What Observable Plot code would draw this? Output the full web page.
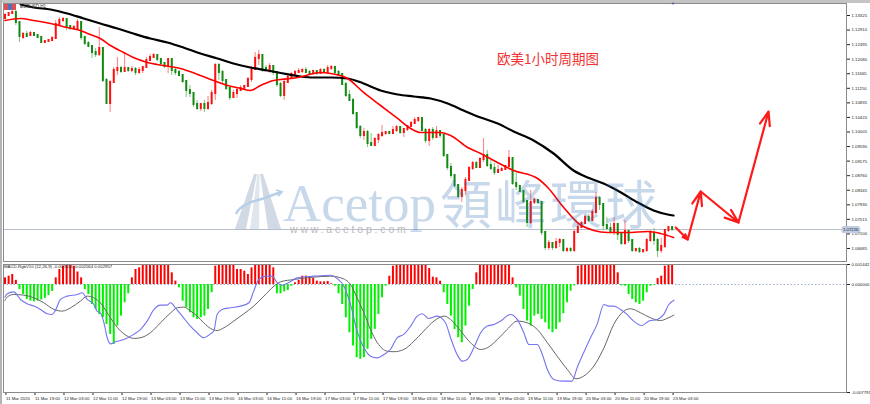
<!DOCTYPE html>
<html><head><meta charset="utf-8">
<script src="https://cdn.jsdelivr.net/npm/d3@7"></script>
<script src="https://cdn.jsdelivr.net/npm/@observablehq/plot@0.6"></script>
<style>
body{margin:0;background:#fff;}
#wrap{position:relative;width:870px;height:404px;overflow:hidden;background:#fff;font-family:"Liberation Sans",Arial,sans-serif;}
#wrap svg{position:absolute;left:0;}
.ov{position:absolute;white-space:nowrap;line-height:1;pointer-events:none;}
</style></head><body><div id="wrap"></div>
<script>
// ---- candles (EURUSD H1) ----
const open=[1.13240,1.13325,1.13382,1.13411,1.13126,1.12698,1.12784,1.12755,1.12812,1.12755,1.12698,1.12556,1.12584,1.12613,1.12670,1.13069,1.13183,1.13211,1.13012,1.12955,1.12955,1.13126,1.12698,1.12527,1.12442,1.12271,1.12214,1.12385,1.11473,1.10817,1.11416,1.11758,1.11815,1.11729,1.11815,1.11758,1.11786,1.11701,1.11758,1.11843,1.12043,1.12128,1.12185,1.12071,1.11957,1.11872,1.12071,1.11758,1.11701,1.11615,1.11444,1.11188,1.11102,1.10789,1.10675,1.10789,1.10675,1.10817,1.11102,1.11900,1.11701,1.11473,1.11245,1.10988,1.11102,1.11188,1.11245,1.11302,1.11501,1.11786,1.12100,1.12185,1.11815,1.11786,1.11872,1.11701,1.11359,1.11045,1.11416,1.11558,1.11644,1.11701,1.11729,1.11758,1.11701,1.11672,1.11729,1.11672,1.11758,1.11701,1.11815,1.11843,1.11701,1.11644,1.11359,1.11045,1.10903,1.10532,1.10133,1.09905,1.09991,1.09677,1.09620,1.09791,1.09905,1.09962,1.09991,1.09962,1.10048,1.10133,1.09991,1.10076,1.10162,1.10247,1.10333,1.10390,1.10048,1.09763,1.10048,1.09848,1.10019,1.09905,1.09335,1.08993,1.08765,1.08480,1.08167,1.08338,1.08623,1.08965,1.09107,1.08993,1.09221,1.09335,1.09050,1.08965,1.08851,1.08908,1.08936,1.09022,1.09250,1.08537,1.08452,1.08309,1.08024,1.07426,1.07996,1.08053,1.07996,1.07141,1.06713,1.06827,1.06713,1.06856,1.06913,1.06628,1.06656,1.06628,1.07141,1.07283,1.07397,1.07568,1.07483,1.07711,1.08110,1.07939,1.07340,1.07255,1.07169,1.07369,1.07084,1.06827,1.07169,1.06913,1.06628,1.06656,1.06599,1.06628,1.06913,1.07112,1.06913,1.06628,1.06742,1.07198,1.07283];
const high=[1.13382,1.13411,1.13468,1.13468,1.13126,1.12841,1.12869,1.12869,1.12841,1.12784,1.12698,1.12613,1.12641,1.12727,1.13183,1.13268,1.13268,1.13240,1.13040,1.13040,1.13211,1.13154,1.12727,1.12584,1.12470,1.12385,1.12983,1.12413,1.11530,1.11473,1.11843,1.12128,1.11872,1.12242,1.11843,1.11872,1.11843,1.11843,1.11872,1.12128,1.12214,1.12242,1.12214,1.12100,1.11986,1.12100,1.12100,1.11815,1.11758,1.11644,1.11473,1.11330,1.11131,1.10903,1.10817,1.10903,1.11017,1.11188,1.11957,1.11957,1.11758,1.11501,1.11273,1.11188,1.11245,1.11330,1.11330,1.11558,1.11872,1.12271,1.12328,1.12214,1.11900,1.11957,1.11900,1.11729,1.11416,1.11473,1.11615,1.11701,1.11758,1.11815,1.11815,1.11843,1.11758,1.11758,1.11758,1.11815,1.11815,1.11900,1.11900,1.11872,1.11758,1.11672,1.11416,1.11188,1.10960,1.10561,1.10190,1.10105,1.10048,1.09962,1.09848,1.09962,1.10190,1.10019,1.10019,1.10162,1.10190,1.10162,1.10105,1.10190,1.10304,1.10418,1.10418,1.10418,1.10105,1.10105,1.10133,1.10162,1.10048,1.09934,1.09364,1.09107,1.08794,1.08509,1.08423,1.08708,1.09022,1.09164,1.09164,1.09278,1.09820,1.09478,1.09193,1.09107,1.09050,1.08993,1.09050,1.09478,1.09278,1.08822,1.08480,1.08338,1.08053,1.08338,1.08110,1.08081,1.08024,1.07169,1.06913,1.06856,1.06970,1.06970,1.06941,1.06713,1.06713,1.07226,1.07369,1.07454,1.07625,1.07654,1.07796,1.08281,1.08167,1.07967,1.07568,1.07397,1.07568,1.07397,1.07112,1.07483,1.07198,1.06941,1.06685,1.06713,1.06656,1.06970,1.07198,1.07255,1.06970,1.06970,1.07226,1.07312,1.07312];
const low=[1.13211,1.13297,1.13354,1.13040,1.12556,1.12641,1.12698,1.12727,1.12727,1.12670,1.12527,1.12527,1.12556,1.12584,1.12641,1.13040,1.13126,1.12898,1.12898,1.12898,1.12898,1.12613,1.12470,1.12413,1.12100,1.12128,1.12157,1.11416,1.10789,1.10561,1.11387,1.11615,1.11672,1.11701,1.11701,1.11701,1.11615,1.11644,1.11672,1.11815,1.12014,1.12100,1.12014,1.11872,1.11815,1.11672,1.11615,1.11615,1.11587,1.11387,1.10988,1.10988,1.10703,1.10618,1.10589,1.10561,1.10618,1.10760,1.10903,1.11473,1.11387,1.11188,1.10903,1.10960,1.10960,1.11159,1.11188,1.11273,1.11416,1.11758,1.11900,1.11701,1.11758,1.11672,1.11615,1.11273,1.10988,1.10903,1.11387,1.11530,1.11615,1.11672,1.11672,1.11672,1.11615,1.11615,1.11615,1.11644,1.11672,1.11672,1.11758,1.11644,1.11615,1.11330,1.10988,1.10874,1.10475,1.10076,1.09820,1.09763,1.09563,1.09592,1.09592,1.09677,1.09848,1.09905,1.09934,1.09934,1.09991,1.09934,1.09848,1.10019,1.10133,1.10219,1.10276,1.10019,1.09677,1.09592,1.09763,1.09820,1.09820,1.09278,1.08908,1.08680,1.08423,1.08110,1.07996,1.08195,1.08594,1.08908,1.08965,1.08965,1.09136,1.08993,1.08908,1.08765,1.08822,1.08879,1.08908,1.08993,1.08480,1.08338,1.08281,1.07967,1.07283,1.07369,1.07939,1.07939,1.07055,1.06628,1.06628,1.06628,1.06656,1.06713,1.06571,1.06571,1.06571,1.06571,1.07112,1.07255,1.07369,1.07426,1.07454,1.07654,1.07768,1.07198,1.07198,1.07112,1.07055,1.06913,1.06770,1.06770,1.06827,1.06571,1.06571,1.06542,1.06542,1.06571,1.06856,1.06770,1.06428,1.06542,1.06685,1.07141,1.07169];
const close=[1.13325,1.13382,1.13411,1.13126,1.12727,1.12784,1.12727,1.12812,1.12755,1.12698,1.12556,1.12584,1.12613,1.12670,1.13069,1.13183,1.13211,1.13012,1.12955,1.12983,1.13126,1.12698,1.12527,1.12442,1.12271,1.12214,1.12385,1.11473,1.10817,1.11416,1.11758,1.11815,1.11729,1.11815,1.11758,1.11786,1.11701,1.11758,1.11843,1.12043,1.12128,1.12185,1.12071,1.11957,1.11872,1.12071,1.11758,1.11701,1.11615,1.11444,1.11188,1.11102,1.10789,1.10675,1.10789,1.10675,1.10817,1.11102,1.11900,1.11701,1.11473,1.11245,1.10988,1.11102,1.11188,1.11245,1.11302,1.11501,1.11786,1.12100,1.12185,1.11815,1.11786,1.11872,1.11701,1.11359,1.11045,1.11416,1.11558,1.11644,1.11701,1.11729,1.11758,1.11701,1.11672,1.11729,1.11672,1.11758,1.11701,1.11815,1.11843,1.11701,1.11644,1.11359,1.11045,1.10903,1.10532,1.10133,1.09905,1.09991,1.09677,1.09620,1.09791,1.09905,1.09962,1.09991,1.09962,1.10048,1.10133,1.09991,1.10076,1.10162,1.10247,1.10333,1.10390,1.10048,1.09763,1.10048,1.09848,1.10019,1.09905,1.09335,1.08993,1.08765,1.08480,1.08167,1.08338,1.08623,1.08965,1.09107,1.08993,1.09221,1.09335,1.09050,1.08965,1.08851,1.08908,1.08936,1.09022,1.09250,1.08537,1.08452,1.08309,1.08024,1.07426,1.07996,1.08053,1.07996,1.07141,1.06713,1.06827,1.06713,1.06856,1.06913,1.06628,1.06656,1.06628,1.07141,1.07283,1.07397,1.07568,1.07483,1.07711,1.08110,1.07939,1.07340,1.07255,1.07169,1.07369,1.07084,1.06827,1.07169,1.06913,1.06628,1.06656,1.06599,1.06628,1.06913,1.07112,1.06913,1.06628,1.06742,1.07198,1.07283,1.07226];
const currentPrice=1.07226;

// ---- moving averages (bar index, price) ----
const fastMABar=[0,4.3,7.9,12.6,17.2,20.8,22.8,26.3,29.1,32.7,35.4,39.3,43.7,48.4,53.9,57.5,61.4,65,67.7,70.5,74.1,78.8,80.7,87,89.8,94.5,98.9,103.6,108.3,111.9,114.6,120.1,122.9,127.6,131.2,134.8,140.3,146.9,149.7,154.1,158.2,162.4,166.2,171.7,177.3,180.8,184.4];
const fastMAPrice=[1.13183,1.13240,1.13183,1.13097,1.12983,1.12898,1.12812,1.12670,1.12470,1.12271,1.12128,1.11986,1.11900,1.11815,1.11615,1.11473,1.11330,1.11245,1.11188,1.11330,1.11473,1.11530,1.11558,1.11701,1.11672,1.11530,1.11131,1.10760,1.10390,1.10105,1.09991,1.09991,1.09905,1.09563,1.09392,1.09193,1.08908,1.08680,1.08423,1.07853,1.07397,1.07198,1.07140,1.07140,1.07169,1.07112,1.06998];
const slowMABar=[4.3,7.9,12.6,17.2,21.7,26.3,31.0,35.4,40.1,44.8,49.2,53.9,58.6,63.0,67.7,72.4,76.8,81.5,85.1,89.8,94.5,98.9,103.6,108.3,112.7,117.4,122.1,126.5,131.2,135.9,140.3,145.8,151.3,156.8,160.7,165.1,169.9,174.5,178.9,182.8,184.4];
const slowMAPrice=[1.13639,1.13553,1.13496,1.13382,1.13240,1.13097,1.12955,1.12812,1.12670,1.12556,1.12413,1.12242,1.12100,1.11957,1.11843,1.11758,1.11672,1.11587,1.11558,1.11558,1.11530,1.11387,1.11188,1.11074,1.11017,1.10960,1.10817,1.10618,1.10418,1.10247,1.10019,1.09763,1.09392,1.08908,1.08708,1.08537,1.08281,1.07996,1.07768,1.07654,1.07625];

// ---- projection arrows (bar index, price) ----
const arrowFromBar=[185,188.3,191.9,202.3];
const arrowFromPrice=[1.07283,1.06941,1.08309,1.07426];
const arrowToBar=[188.3,191.9,202.3,210.6];
const arrowToPrice=[1.06941,1.08309,1.07426,1.10589];

// ---- MACD ----
const macdHist=[0.00048,0.0006,0.00072,0.0003,
-0.00036,-0.00072,-0.00108,-0.0012,-0.00125,-0.0012,-0.00112,-0.001,-0.0008,-0.0005,
0.00048,
0.00108,0.00132,0.00144,0.00144,0.00132,0.0009,0.00048,
-0.00036,-0.00072,-0.00144,-0.0018,-0.00216,-0.0024,-0.00288,-0.0036,-0.00432,-0.003,-0.00228,-0.00132,-0.00067,
0.00048,0.00108,0.0012,0.00144,0.00144,0.00144,0.00144,0.00144,0.00144,0.00144,0.00144,0.00084,0.00024,
-0.00024,-0.0012,-0.00168,-0.00204,-0.0024,-0.00252,-0.0024,-0.00228,-0.0018,-0.0006,
0.00132,0.00144,0.00144,0.00144,0.00144,0.00144,0.00108,0.00108,0.00096,0.00072,0.0012,0.00144,0.00144,0.00144,0.00144,0.00144,0.0012,
-0.00067,-0.00067,-0.00053,-0.00043,-0.00012,
0.00012,0.00029,0.0006,0.0006,0.00048,0.00043,0.00024,0.00019,0.00019,0.00022,0.00005,
-0.00012,-0.00067,-0.00144,-0.0024,-0.00348,-0.00444,-0.00528,-0.0054,-0.00528,-0.00468,-0.00396,-0.00324,-0.00216,-0.00096,-0.00012,
0.0006,0.00132,0.00144,0.00144,0.00144,0.00144,0.00144,0.00144,0.00144,0.00144,0.00144,0.00115,0.00053,0.00048,0.00024,
-0.0006,-0.00144,-0.00228,-0.00324,-0.00384,-0.0042,-0.003,-0.00156,-0.00036,
0.00084,0.00144,0.00144,0.00144,0.00144,0.00144,0.00144,0.00144,0.00144,0.00144,0.00048,
-0.00024,-0.00084,-0.0018,-0.00264,-0.003,-0.00228,-0.00216,-0.00252,-0.00276,-0.00324,-0.00348,-0.00324,-0.00276,-0.0021,-0.00132,-0.00048,
-0.0001,
0.00132,0.00144,0.00144,0.00144,0.00144,0.00144,0.00144,0.00144,0.00144,0.00144,0.00144,0.00084,
-0.0001,-0.00012,-0.00072,-0.00108,-0.00132,-0.00144,-0.0012,-0.0006,-0.00012,-0.00005,
0.00043,0.0006,0.00132,0.00144,0.00144];
const macdBar=[0,0.6,2.4,4.3,6.1,8,9.8,11.6,13,13.9,15.3,17.1,19.9,21.3,22.7,24.5,25.4,26.3,27.3,28.2,29.1,30.5,32.8,35.5,37.4,39.2,41.1,42.9,44.7,45.7,47,48.9,50.7,53,54.8,56.7,57.6,58.5,59.9,62.2,65,67.3,68.6,70,71.9,73.7,75.1,76.5,78,80.6,85.2,89.8,91.6,93.5,95.3,97.1,99,100.8,102.7,104.5,106.3,108.2,110,111.9,113.7,115.1,116.9,119.2,121.5,122.9,124.7,126.1,127.5,129.3,131.2,133,134.9,136.7,139.4,141.3,143.1,144.5,146.8,148.2,149.6,151.4,153.7,156.4,157.8,159.6,161.5,163.3,165.2,166.5,167.9,169.8,171.6,173.4,175.7,177.6,179.9,181.7,183.1,184.5];
const macdVal=[-0.00091,-0.00067,-0.00053,-0.00108,-0.00139,-0.00156,-0.0018,-0.00211,-0.00216,-0.00187,-0.00108,-0.00084,-0.00072,-0.0006,-0.00108,-0.00144,-0.00192,-0.00204,-0.00276,-0.00384,-0.00428,-0.00413,-0.00397,-0.0036,-0.00324,-0.00264,-0.0018,-0.00149,-0.00149,-0.00132,-0.00168,-0.00228,-0.00288,-0.00348,-0.00384,-0.00356,-0.00336,-0.00216,-0.0018,-0.00168,-0.00156,-0.00132,-0.00048,0.00036,0.0006,0.0006,0.00012,-0.00005,0.0001,0.00048,0.0006,0.00067,0.00043,-0.00012,-0.00144,-0.00336,-0.00457,-0.00517,-0.00529,-0.00505,-0.00469,-0.00384,-0.0036,-0.003,-0.00228,-0.00211,-0.00245,-0.00228,-0.00276,-0.00384,-0.00505,-0.00553,-0.00541,-0.00457,-0.00348,-0.003,-0.00288,-0.00264,-0.00216,-0.00252,-0.00348,-0.00433,-0.00433,-0.00505,-0.00613,-0.00685,-0.00697,-0.00697,-0.006,-0.00493,-0.00384,-0.00288,-0.00144,-0.00156,-0.00156,-0.0018,-0.00216,-0.00264,-0.00296,-0.00264,-0.00252,-0.00216,-0.00144,-0.00113];
const signalBar=[0,0.6,2.4,5.2,8,10.7,13.5,15.8,18.1,20.8,22.7,24.5,26.3,28.2,30,31.9,33.7,35.5,37.4,40.1,42.9,45.7,47.5,49.3,51.2,53,54.8,56.7,58.5,60.4,63.1,65.9,68.6,71.4,74.2,76,79.7,85.2,89.8,92.6,95.3,97.1,99,100.8,102.7,105.4,107.3,110,112.8,115.5,118.3,121.1,122.9,125.7,128.4,131.2,133,135.8,138.5,141.3,144,146.8,149.6,152.3,155.1,157.5,159.6,162.4,165.2,167.9,170.7,172.5,175.3,178,180.8,182.6,184.5];
const signalVal=[-0.00115,-0.00091,-0.00072,-0.00077,-0.00096,-0.00132,-0.0018,-0.00192,-0.00168,-0.0012,-0.00084,-0.00096,-0.00132,-0.00204,-0.00276,-0.00336,-0.00372,-0.00389,-0.00384,-0.00348,-0.00276,-0.00204,-0.00168,-0.00163,-0.00192,-0.00228,-0.00276,-0.00317,-0.00332,-0.00312,-0.00264,-0.00211,-0.00156,-0.00084,-0.00012,0.00019,0.00036,0.00053,0.0006,0.00048,0,-0.00096,-0.00204,-0.00324,-0.0042,-0.00481,-0.00485,-0.00469,-0.00409,-0.00336,-0.00264,-0.00228,-0.00252,-0.00336,-0.0042,-0.00469,-0.00457,-0.00397,-0.00324,-0.00264,-0.00276,-0.00324,-0.0042,-0.00517,-0.00613,-0.0068,-0.00661,-0.00589,-0.00457,-0.00288,-0.00192,-0.00175,-0.00204,-0.0024,-0.0026,-0.00245,-0.00221];

// ---- axes ----
const priceTicks=[1.13325,1.12910,1.12495,1.12080,1.11665,1.11250,1.10835,1.10420,1.10005,1.09590,1.09175,1.08760,1.08345,1.07930,1.07515,1.07100,1.06685];
const macdTicks=[0.001442,0,-0.007791];
const timeLabels=["11 Mar 2020","11 Mar 19:00","12 Mar 03:00","12 Mar 11:00","12 Mar 19:00","13 Mar 03:00","13 Mar 11:00","13 Mar 19:00","16 Mar 03:00","16 Mar 11:00","16 Mar 19:00","17 Mar 03:00","17 Mar 11:00","17 Mar 19:00","18 Mar 03:00","18 Mar 11:00","18 Mar 19:00","19 Mar 03:00","19 Mar 11:00","19 Mar 19:00","20 Mar 03:00","20 Mar 11:00","20 Mar 19:00","23 Mar 03:00"];
const timeLabelBars=[0,8,16,24,32,40,48,56,64,72,80,88,96,104,112,120,128,136,144,152,160,168,176,184];

// ---- build tables ----
const bars=open.map((o,i)=>({i,o,h:high[i],l:low[i],c:close[i]}));
const fastMA=fastMABar.map((b,k)=>({b,v:fastMAPrice[k]}));
const slowMA=slowMABar.map((b,k)=>({b,v:slowMAPrice[k]}));
const arrows=arrowFromBar.map((b,k)=>({x1:b,y1:arrowFromPrice[k],x2:arrowToBar[k],y2:arrowToPrice[k]}));
const hist=macdHist.map((v,i)=>({i,v}));
const macdLine=macdBar.map((b,k)=>({b,v:macdVal[k]}));
const signalLine=signalBar.map((b,k)=>({b,v:signalVal[k]}));
const labelOf=new Map(timeLabelBars.map((b,k)=>[b,timeLabels[k]]));

const xDomain=[-0.41,232.1];
const font='"Liberation Sans",Arial,sans-serif';
const baseStyle={fontSize:"4.3px",fontFamily:font,background:"transparent",overflow:"visible",color:"#222"};

const main=Plot.plot({
  width:870,height:262,marginLeft:3,marginRight:24,marginTop:3,marginBottom:1,
  x:{domain:xDomain,axis:null},
  y:{domain:[1.06314,1.13667],axis:null},
  color:{type:"identity"},
  style:baseStyle,
  marks:[
    Plot.ruleY([currentPrice],{stroke:"#b7bfcf",strokeWidth:1}),
    Plot.ruleX(bars,{x:"i",y1:"l",y2:"h",stroke:d=>d.c>=d.o?"#ff7d7d":"#7fc47f",strokeWidth:1}),
    Plot.ruleX(bars,{x:"i",y1:"o",y2:"c",stroke:d=>d.c>=d.o?"#ff1010":"#128a12",strokeWidth:2,strokeLinecap:"square"}),
    Plot.line(slowMA,{x:"b",y:"v",stroke:"#000",strokeWidth:2.2,curve:"monotone-x",clip:true}),
    Plot.line(fastMA,{x:"b",y:"v",stroke:"#ff0000",strokeWidth:1.6,curve:"monotone-x",clip:true}),
    Plot.arrow(arrows,{x1:"x1",y1:"y1",x2:"x2",y2:"y2",stroke:"#ff1a1a",strokeWidth:2.2,headLength:10,headAngle:40}),
    Plot.axisY(priceTicks,{anchor:"right",tickSize:3,tickPadding:2,tickFormat:d=>d.toFixed(5),fontSize:4.3,label:null}),
    Plot.frame({stroke:"#8a8a8a"}),
    Plot.text([currentPrice],{y:d=>d,frameAnchor:"right",dx:12,text:d=>d.toFixed(5),fontSize:4.3,fill:"#222",stroke:"#bfcbe3",strokeWidth:4})
  ]
});
main.style.top="0px";

const macd=Plot.plot({
  width:870,height:142,marginLeft:3,marginRight:24,marginTop:2,marginBottom:12,
  x:{domain:xDomain,axis:null},
  y:{domain:[-0.007791,0.001442],axis:null},
  color:{type:"identity"},
  style:baseStyle,
  marks:[
    Plot.ruleY([0],{stroke:"#9aaccc",strokeDasharray:"1.5,2"}),
    Plot.ruleX(hist,{x:"i",y1:0,y2:"v",stroke:d=>d.v>=0?"#ff0000":"#00f000",strokeWidth:2,clip:true}),
    Plot.line(signalLine,{x:"b",y:"v",stroke:"#666",strokeWidth:1,curve:"monotone-x"}),
    Plot.line(macdLine,{x:"b",y:"v",stroke:"#7474f0",strokeWidth:1.1,curve:"monotone-x"}),
    Plot.axisY(macdTicks,{anchor:"right",tickSize:3,tickPadding:2,tickFormat:d=>d.toFixed(6),fontSize:4.3,label:null}),
    Plot.axisX(timeLabelBars,{anchor:"bottom",tickSize:3,tickPadding:1.5,tickFormat:d=>labelOf.get(d),textAnchor:"start",dx:1,fontSize:4.3,label:null}),
    Plot.frame({stroke:"#8a8a8a"})
  ]
});
macd.style.top="262px";

const wrap=document.getElementById("wrap");
wrap.appendChild(main);
wrap.appendChild(macd);

function ov(text,css){const d=document.createElement("div");d.className="ov";d.textContent=text;Object.assign(d.style,css);wrap.appendChild(d);return d;}
// window borders
const tb=document.createElement("div");Object.assign(tb.style,{position:"absolute",left:"0",top:"0",width:"870px",height:"2.5px",background:"#c4c4c4"});wrap.appendChild(tb);
const lb=document.createElement("div");Object.assign(lb.style,{position:"absolute",left:"0",top:"0",width:"2px",height:"404px",background:"#b4b4b4"});wrap.appendChild(lb);
// watermark logo (decorative)
const logo=document.createElementNS("http://www.w3.org/2000/svg","svg");
logo.setAttribute("width","870");logo.setAttribute("height","404");
logo.style.top="0px";logo.style.pointerEvents="none";
logo.innerHTML='<g opacity="0.75"><polygon points="254,174 257,174 246,229 235,229" fill="#c2cedb"/><polygon points="257.5,174 259.5,174 259,229 250,229" fill="#d6dee7"/><polygon points="260,174 263,174 281,229 268,229" fill="#c2cedb"/></g><path d="M236,214 Q240,204 262,199 L281,192" stroke="#b7cfe8" stroke-width="2.4" fill="none"/><path d="M276,190 L282,192 L278,196" stroke="#b7cfe8" stroke-width="1.8" fill="none"/>';
wrap.appendChild(logo);
// watermark text
ov("Acetop",{left:"283px",top:"184px",lineHeight:"0.72",fontFamily:'"Liberation Serif","DejaVu Serif",serif',fontSize:"53px",color:"#2a6cb0",opacity:"0.26"});
ov("領峰環球",{left:"440px",top:"176px",fontFamily:'"Noto Sans CJK TC","Noto Sans CJK SC",sans-serif',fontSize:"52px",letterSpacing:"3px",color:"#2a6cb0",opacity:"0.26"});
ov("www.acetop.com",{left:"290px",top:"224px",fontSize:"10.5px",letterSpacing:"2.8px",color:"#b9b9b9"});
// titles / labels
ov("欧美1小时周期图",{left:"497px",top:"52px",fontFamily:'"Noto Sans CJK SC",sans-serif',fontSize:"13.5px",color:"#f23232"});
ov("EURUSD,H1",{left:"20px",top:"5px",fontSize:"4.5px",color:"#333"});
const ic=document.createElement("div");Object.assign(ic.style,{position:"absolute",left:"4px",top:"4px",width:"12px",height:"6px",background:"linear-gradient(90deg,#e05050 0 33%,#5070c0 33% 66%,#e05050 66%)"});wrap.appendChild(ic);
ov("MACD-RgbV10 (12,26,9) -0.002016 -0.002064 0.002957",{left:"4px",top:"265px",fontSize:"4.3px",color:"#222"});
ov("▼",{left:"671px",top:"2px",fontSize:"4px",color:"#33508a"});
</script></body></html>
